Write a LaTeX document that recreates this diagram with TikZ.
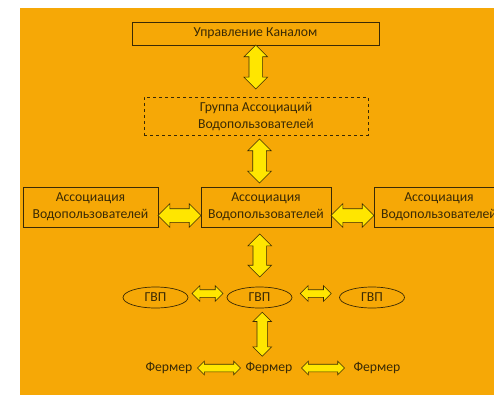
\documentclass[tikz,border=0pt]{standalone}
\usepackage{fontspec}
\setmainfont{Carlito}
\usepackage{tikz}
\usetikzlibrary{arrows.meta,positioning,calc,shapes.geometric,shapes.arrows}
\usepackage{xcolor}
\definecolor{bgorange}{HTML}{F6A806}
\definecolor{arryel}  {HTML}{FFE600}
\definecolor{inkbrown}{HTML}{3A2A05}

\begin{document}
\begin{tikzpicture}[x=1pt, y=-1pt,
      every node/.style={text=inkbrown},
      box/.style={
        draw=inkbrown, line width=0.8pt,
        minimum height=23pt, align=center,
        font=\fontsize{13.7}{17}\selectfont
      },
      gvp/.style={
        ellipse, draw=inkbrown, line width=0.7pt,
        minimum width=65pt, minimum height=21pt, inner sep=0pt,
        font=\fontsize{13.7}{15}\selectfont
      },
      farmer/.style={font=\fontsize{13.7}{15}\selectfont, inner sep=2pt},
      dblarr/.style 2 args={
        double arrow, draw=inkbrown, fill=arryel, line width=0.6pt,
        text height=0pt, text depth=0pt, text width=0pt,
        inner xsep=0pt, inner ysep=#1, double arrow head extend=#2,
        double arrow head indent=0pt
      },
      bigarr/.style={dblarr={6.5pt}{5pt}, minimum height=44pt},
      smallarr/.style={dblarr={3.5pt}{4pt}, minimum height=31pt}
    ]
      \useasboundingbox (0,0) rectangle (494,395);
      \clip (0,0) rectangle (494,395);
      \fill[bgorange] (20,8) rectangle (494,395);

      % boxes
      \node[box, minimum width=247pt] (upr) at (255.5,33.5) {Управление Каналом};
      \node[box, dashed, minimum width=224pt, minimum height=38pt] (grp) at (256,116) {Группа Ассоциаций\\Водопользователей};
      \node[box, minimum width=135pt, minimum height=40pt] (assocL) at (90.5,207) {Ассоциация\\Водопользователей};
      \node[box, minimum width=130pt, minimum height=40pt] (assocC) at (266,207) {Ассоциация\\Водопользователей};
      \node[box, minimum width=130pt, minimum height=40pt] (assocR) at (439,207) {Ассоциация\\Водопользователей};

      % WUGs
      \node[gvp] (gvpL) at (155.5,297.5) {ГВП};
      \node[gvp] (gvpC) at (259.5,297.5) {ГВП};
      \node[gvp] (gvpR) at (372,297.5) {ГВП};

      % farmers
      \node[farmer] (ferL) at (169,368) {Фермер};
      \node[farmer] (ferC) at (269,368) {Фермер};
      \node[farmer] (ferR) at (377,368) {Фермер};

      % block arrows
      \node[bigarr, rotate=90, xshift=4pt] (a1) at ($(upr.south)!.5!(grp.north)$) {};
      \node[bigarr, rotate=90] (a2) at ($(grp.south)!.5!(assocC.north)+(-1.5,0)$) {};
      \node[bigarr, rotate=90, minimum height=43pt] (a3) at ($(assocC.south)!.5!(gvpC.north)+(-3,-1.5)$) {};
      \node[bigarr, minimum height=43pt] (hL) at ($(assocL.east)!.5!(assocC.west)+(0,8.5)$) {};
      \node[bigarr, minimum height=43pt] (hR) at ($(assocC.east)!.5!(assocR.west)+(0,8.5)$) {};
      \node[smallarr] (gL) at ($(gvpL.east)!.5!(gvpC.west)+(0,-4)$) {};
      \node[smallarr] (gR) at ($(gvpC.east)!.5!(gvpR.west)+(0,-4)$) {};
      \node[dblarr={5pt}{4pt}, rotate=90, minimum height=44pt] (v4) at ($(gvpC.south)!.5!(ferC.north)+(-2,0)$) {};
      \node[dblarr={3.5pt}{3pt}, minimum height=43pt] (fL) at ($(ferL.east)!.5!(ferC.west)$) {};
      \node[dblarr={3.5pt}{3pt}, minimum height=43pt] (fR) at ($(ferC.east)!.5!(ferR.west)$) {};
    \end{tikzpicture}
\end{document}
